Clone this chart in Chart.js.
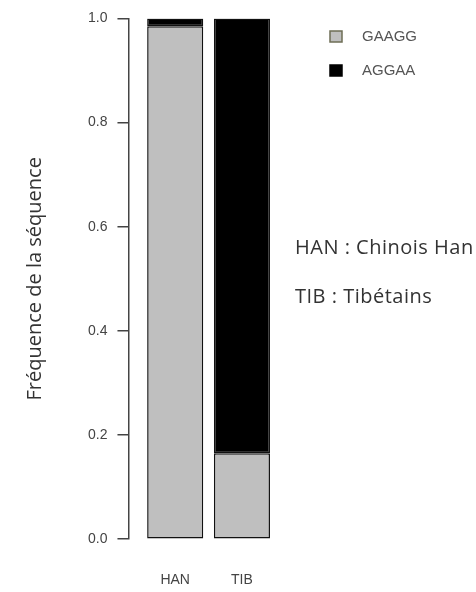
<!DOCTYPE html>
<html>
<head>
<meta charset="utf-8">
<script src="https://cdn.jsdelivr.net/npm/chart.js@4.4.1/dist/chart.umd.min.js"></script>
<style>
    html, body { margin: 0; padding: 0; background: #ffffff; }
    #wrap { width: 476px; height: 592px; position: relative; }
</style>
</head>
<body>
<div id="wrap"><canvas id="freq-chart"></canvas></div>
<script>
const categories = ['HAN', 'TIB'];
const gaaggValues = [0.985, 0.165];
const aggaaValues = [0.015, 0.835];
const yTickValues = [0, 0.2, 0.4, 0.6, 0.8, 1.0];
const seriesNames = ['GAAGG', 'AGGAA'];
const notes = ['HAN : Chinois Han', 'TIB : Tibétains'];

const GRAY = '#bfbfbf';
const INK = '#444444';

function toPoints(values) {
    return values.map((v, i) => ({ x: i + 1, y: v }));
}

// legend + side notes, drawn after the chart
const sideText = {
    id: 'sideText',
    afterDraw(chart) {
        const ctx = chart.ctx;
        ctx.save();
        ctx.textBaseline = 'middle';
        ctx.textAlign = 'left';

        chart.data.datasets.forEach((ds, i) => {
            const y = 37 + i * 34;
            ctx.fillStyle = ds.backgroundColor;
            ctx.strokeStyle = i === 0 ? '#6e6e55' : '#000';
            ctx.lineWidth = 1.5;
            ctx.fillRect(330, y - 6, 12, 11);
            ctx.strokeRect(330, y - 6, 12, 11);
            ctx.fillStyle = '#555';
            ctx.font = '15px "Liberation Sans", Arial, sans-serif';
            ctx.fillText(ds.label, 362, y);
        });

        ctx.fillStyle = '#333';
        ctx.font = '20px "Open Sans", sans-serif';
        ctx.letterSpacing = '0.5px';
        notes.forEach((t, i) => {
            ctx.fillText(t, 295, 248 + i * 49);
        });
        ctx.restore();
    }
};

document.addEventListener('DOMContentLoaded', function() {
    const ctx = document.getElementById('freq-chart').getContext('2d');
    new Chart(ctx, {
        type: 'bar',
        data: {
            datasets: [{
                label: seriesNames[0],
                data: toPoints(gaaggValues),
                backgroundColor: GRAY,
                borderColor: '#111',
                borderWidth: 1.5,
                borderSkipped: false
            }, {
                label: seriesNames[1],
                data: toPoints(aggaaValues),
                backgroundColor: '#000',
                borderColor: '#111',
                borderWidth: 1.5,
                borderSkipped: false
            }]
        },
        options: {
            responsive: true,
            maintainAspectRatio: false,
            animation: false,
            categoryPercentage: 1,
            barPercentage: 0.84,
            layout: {
                padding: { left: 10, right: 194, top: 17, bottom: 0 }
            },
            plugins: {
                legend: { display: false },
                tooltip: { enabled: false }
            },
            scales: {
                x: {
                    type: 'linear',
                    stacked: true,
                    offset: false,
                    min: 0.3,
                    max: 2.6,
                    afterBuildTicks: (scale) => {
                        scale.ticks = categories.map((c, i) => ({ value: i + 1 }));
                    },
                    grid: {
                        display: true,
                        drawOnChartArea: false,
                        drawTicks: true,
                        tickLength: 30,
                        color: 'rgba(0,0,0,0)'
                    },
                    border: { display: false },
                    ticks: {
                        padding: 3,
                        autoSkip: false,
                        maxRotation: 0,
                        minRotation: 0,
                        color: INK,
                        font: { family: '"Liberation Sans", Arial, sans-serif', size: 14 },
                        callback: (v) => categories[v - 1] || ''
                    }
                },
                y: {
                    stacked: true,
                    min: 0,
                    max: 1,
                    afterBuildTicks: (scale) => {
                        scale.ticks = yTickValues.map(v => ({ value: v }));
                    },
                    grid: {
                        drawOnChartArea: false,
                        drawTicks: true,
                        tickLength: 11,
                        color: INK,
                        lineWidth: 1.5
                    },
                    border: { display: true, color: INK, width: 1.5 },
                    ticks: {
                        padding: 10,
                        color: INK,
                        font: { family: '"Liberation Sans", Arial, sans-serif', size: 14 },
                        callback: (v) => v.toFixed(1)
                    },
                    title: {
                        display: true,
                        text: 'Fréquence de la séquence',
                        color: '#333',
                        font: { family: '"Open Sans", sans-serif', size: 20 },
                        padding: { top: 13, bottom: 31 }
                    }
                }
            }
        },
        plugins: [sideText]
    });
});
</script>
</body>
</html>
